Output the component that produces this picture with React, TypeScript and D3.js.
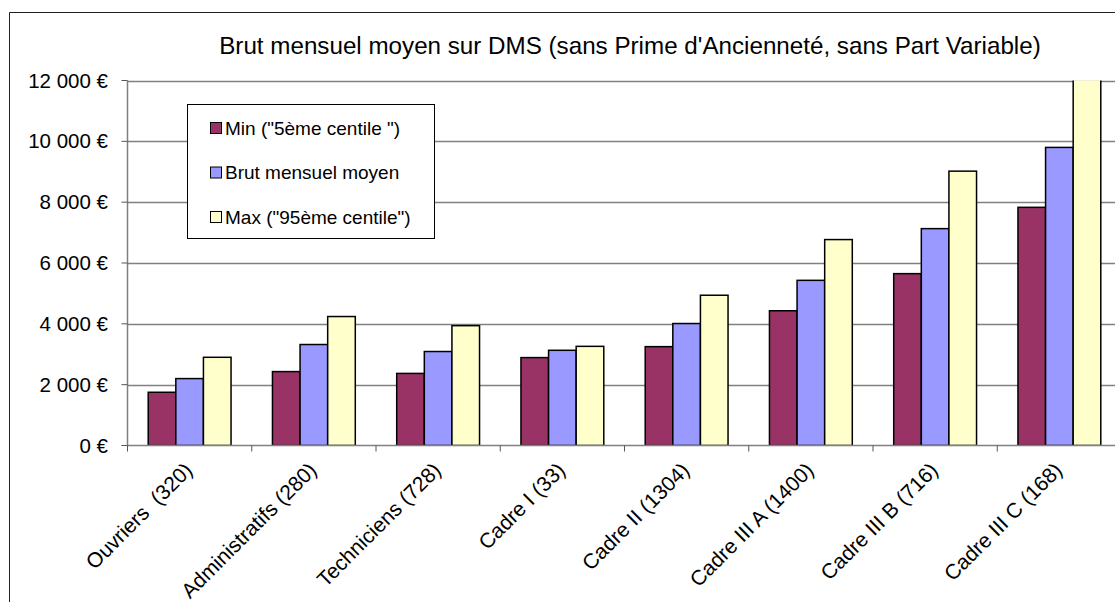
import React from "react";
import * as d3 from "d3";

const categories = [
  "Ouvriers  (320)",
  "Administratifs (280)",
  "Techniciens (728)",
  "Cadre I (33)",
  "Cadre II (1304)",
  "Cadre III A (1400)",
  "Cadre III B (716)",
  "Cadre III C (168)",
];
const seriesNames = ['Min ("5ème centile ")', "Brut mensuel moyen", 'Max ("95ème centile")'];
const minValues = [1750, 2430, 2370, 2890, 3250, 4430, 5650, 7830];
const meanValues = [2200, 3320, 3090, 3130, 4010, 5430, 7130, 9800];
const maxValues = [2900, 4240, 3940, 3260, 4940, 6770, 9020, 12600];
const yTicks = [0, 2000, 4000, 6000, 8000, 10000, 12000];
const colors = ["#993366", "#9999FF", "#FFFFCC"];
const title = "Brut mensuel moyen sur DMS (sans Prime d'Ancienneté, sans Part Variable)";

const W = 1115;
const H = 602;
const plot = { left: 127.5, top: 80.5, bottom: 445.5, right: 1121.5 };

export default function App() {
  const x = d3.scaleBand().domain(categories).range([plot.left, plot.right]).paddingInner(0).paddingOuter(0);
  const inner = d3
    .scaleBand()
    .domain(seriesNames)
    .range([x.bandwidth() / 6, (x.bandwidth() * 5) / 6]);
  const y = d3.scaleLinear().domain([0, 12000]).range([plot.bottom, plot.top]);
  const seriesValues = [minValues, meanValues, maxValues];
  const font = "'Liberation Sans', Arial, sans-serif";
  const fmt = (v: number) => d3.format(",")(v).replace(/,/g, " ") + " €";

  return (
    <svg
      width={W}
      height={H}
      style={{ position: "absolute", left: 0, top: 0, background: "#fff" }}
      fontFamily={font}
    >
      <defs>
        <clipPath id="plotclip">
          <rect x={plot.left} y={plot.top} width={plot.right - plot.left} height={plot.bottom - plot.top} />
        </clipPath>
      </defs>
      {/* outer frame */}
      <path d={`M9.5,${H} L9.5,12.5 L${W},12.5`} fill="none" stroke="#222" strokeWidth={1} />
      {/* title */}
      <text x={630} y={54} textAnchor="middle" fontSize={24.2} fill="#000">
        {title}
      </text>
      {/* gridlines */}
      {yTicks.slice(1).map((t) => (
        <line key={t} x1={plot.left} x2={plot.right} y1={Math.round(y(t)) + 0.5} y2={Math.round(y(t)) + 0.5} stroke="#808080" strokeWidth={1.5} />
      ))}
      {/* bars */}
      <g clipPath="url(#plotclip)">
        {categories.map((c, i) =>
          seriesNames.map((s, j) => {
            const v = seriesValues[j][i];
            const x0 = (x(c) as number) + (inner(s) as number);
            return (
              <rect
                key={c + s}
                x={x0}
                y={y(v)}
                width={inner.bandwidth()}
                height={y(0) - y(v)}
                fill={colors[j]}
                stroke="#000"
                strokeWidth={1.5}
              />
            );
          })
        )}
      </g>
      {/* axes */}
      <line x1={plot.left} x2={plot.left} y1={plot.top} y2={plot.bottom} stroke="#808080" strokeWidth={1.5} />
      <line x1={plot.left} x2={plot.right} y1={plot.bottom} y2={plot.bottom} stroke="#808080" strokeWidth={1.5} />
      {yTicks.map((t) => (
        <g key={t}>
          <line x1={plot.left - 6} x2={plot.left} y1={y(t)} y2={y(t)} stroke="#555" strokeWidth={1} />
          <text x={108} y={y(t) + 7} textAnchor="end" fontSize={20.5} fill="#000">
            {fmt(t)}
          </text>
        </g>
      ))}
      {categories.map((c) => (
        <line
          key={c}
          x1={(x(c) as number)}
          x2={(x(c) as number)}
          y1={plot.bottom}
          y2={plot.bottom + 6}
          stroke="#555"
          strokeWidth={1}
        />
      ))}
      {categories.map((c) => {
        const cx = (x(c) as number) + x.bandwidth() / 2;
        return (
          <text
            key={c}
            transform={`translate(${cx + 4},${plot.bottom + 26}) rotate(-45)`}
            textAnchor="end"
            fontSize={21}
            fill="#000"
            style={{ whiteSpace: "pre" }}
          >
            {c}
          </text>
        );
      })}
      {/* legend */}
      <rect x={187.5} y={104.5} width={247} height={134} fill="#fff" stroke="#000" strokeWidth={1} />
      {seriesNames.map((s, j) => {
        const cy = 128 + j * 44.5;
        return (
          <g key={s}>
            <rect x={210.5} y={cy - 5.5} width={11} height={11} fill={colors[j]} stroke="#000" strokeWidth={1} />
            <text x={225} y={cy + 6.5} fontSize={19} fill="#000">
              {s}
            </text>
          </g>
        );
      })}
    </svg>
  );
}
